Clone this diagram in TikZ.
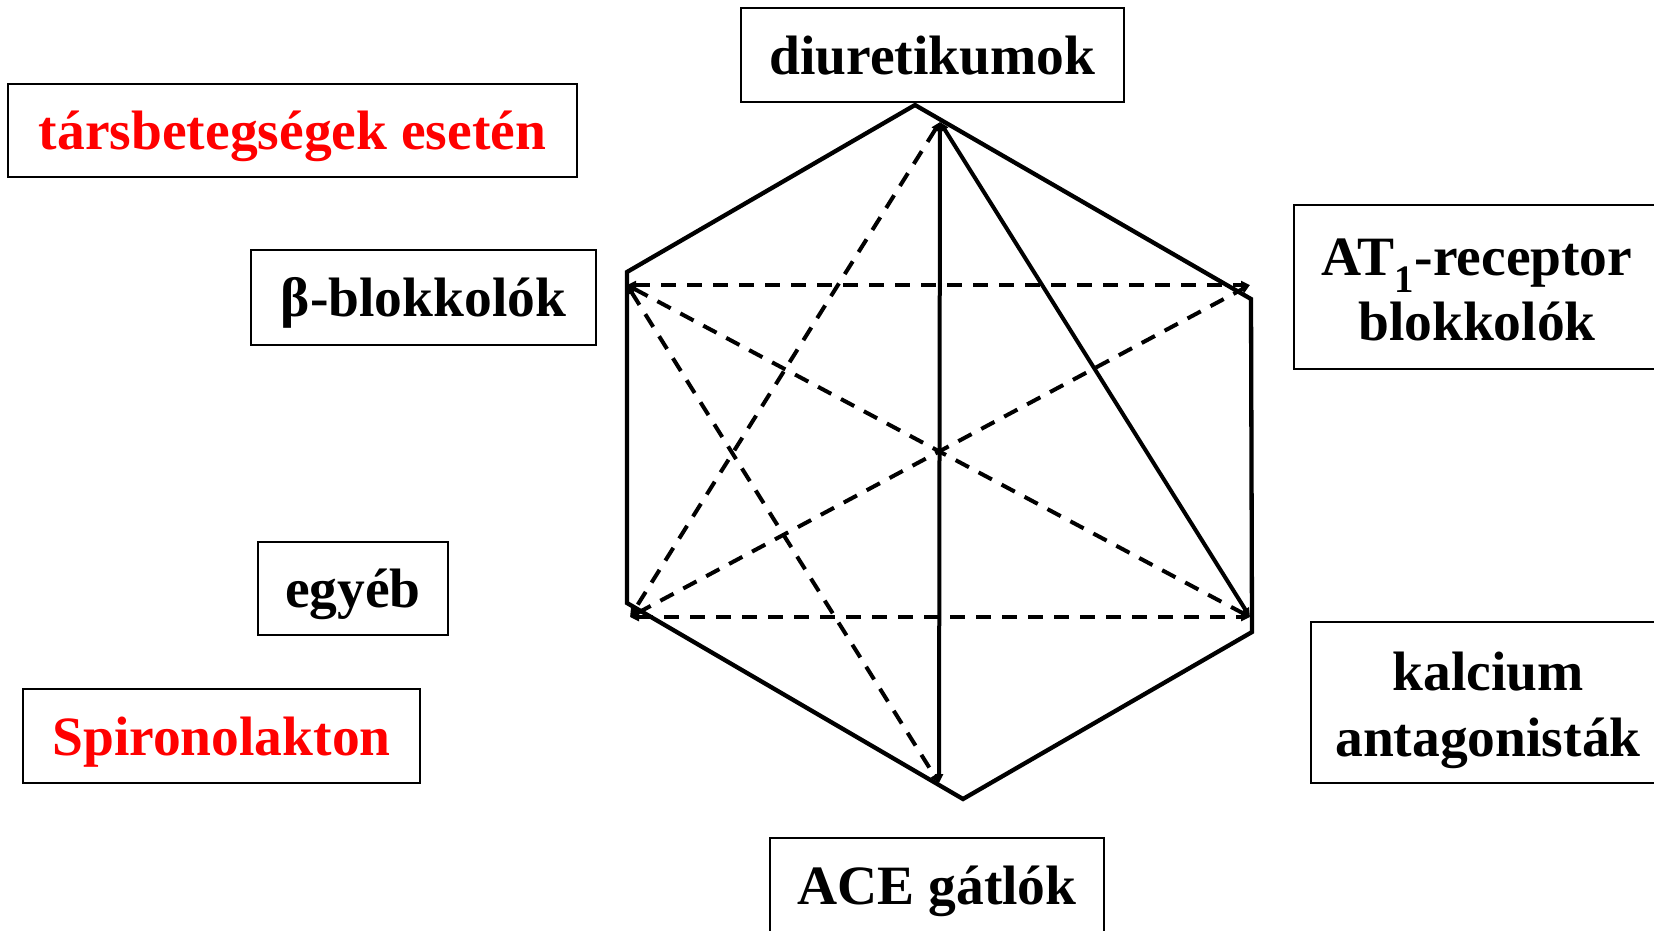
\documentclass[tikz,border=0pt]{standalone}
\usepackage{fontspec}
\setmainfont{Liberation Serif}
\usetikzlibrary{arrows.meta}
\begin{document}
\begin{tikzpicture}[x=1pt,y=-1pt,
  box/.style={draw=black, line width=2pt, inner sep=0pt, fill=white},
  txt/.style={font=\fontsize{55.5}{62}\selectfont\bfseries, inner sep=0pt},
  one/.style={txt, text height=38pt, text depth=0pt},
  hexline/.style={line width=4.3pt, line join=miter},
  link/.style={line width=4pt, {Triangle[length=9pt,width=8pt]}-{Triangle[length=9pt,width=8pt]}},
  dlink/.style={link, dash pattern=on 15pt off 11pt}]
\useasboundingbox (0,0) rectangle (1654,930);
\fill[white] (0,0) rectangle (1654,930);

% hexagon corners
\coordinate (h1) at (915,105);
\coordinate (h2) at (1251,299);
\coordinate (h3) at (1252,632);
\coordinate (h4) at (963,799);
\coordinate (h5) at (627,603);
\coordinate (h6) at (627,272);
\draw[hexline] (h1) -- (h2) -- (h3) -- (h4) -- (h5) -- (h6) -- cycle;

% inner end points
\coordinate (A) at (940,122);
\coordinate (B) at (1250,285);
\coordinate (C) at (1250,617);
\coordinate (D) at (630,617);
\coordinate (E) at (627,285);
\coordinate (F) at (939,783);

\draw[link] (A) -- (F);
\draw[link] (A) -- (C);
\draw[dlink] (E) -- (B);
\draw[dlink] (D) -- (C);
\draw[dlink] (A) -- (D);
\draw[dlink] (E) -- (F);
\draw[dlink] (E) -- (C);
\draw[dlink] (D) -- (B);

% boxes
\node[box, one, minimum width=383pt, minimum height=94pt] (diur) at (932.5,55) {diuretikumok};
\node[box, one, minimum width=569pt, minimum height=93pt, text=red] (tars) at (292.5,130.5) {társbetegségek esetén};
\node[box, one, minimum width=345pt, minimum height=95pt] (beta) at (423.5,297.5) {β-blokkolók};
\node[box, one, minimum width=190pt, minimum height=93pt] (egyeb) at (353,588.5) {egyéb};
\node[box, one, minimum width=397pt, minimum height=94pt, text=red] (spiro) at (221.5,736) {Spironolakton};
\node[box, one, minimum width=334pt, minimum height=94pt] (ace) at (937,885) {ACE gátlók};

\node[box, minimum width=366pt, minimum height=164pt] (at1) at (1477,287) {};
\node[txt, anchor=base, text depth=0pt] (at1a) at (1477,275) {AT\textsubscript{1}-receptor};
\node[txt, anchor=base] (at1b) at (1477,340) {blokkolók};

\node[box, minimum width=354pt, minimum height=161pt] (kalc) at (1488,702.5) {};
\node[txt, anchor=base, text depth=0pt] (kalca) at (1488,690) {kalcium};
\node[txt, anchor=base] (kalcb) at (1488,756) {antagonisták};
\end{tikzpicture}
\end{document}
